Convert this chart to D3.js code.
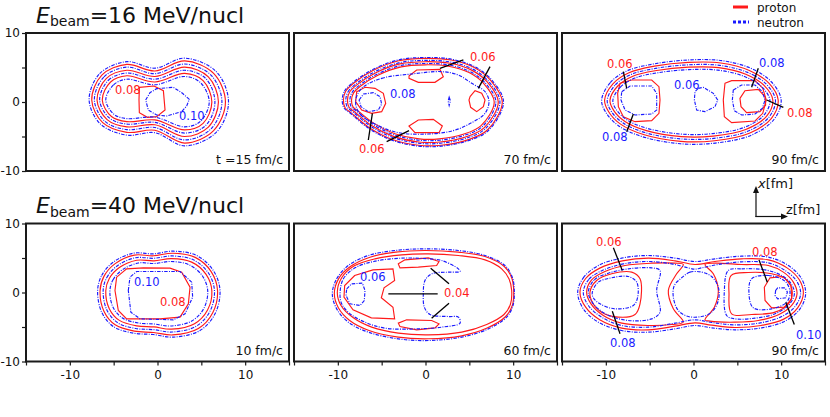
<!DOCTYPE html>
<html><head><meta charset="utf-8">
<script src="https://cdn.jsdelivr.net/npm/d3@7"></script>
<style>body{margin:0;background:#fff} svg{display:block;font-family:"DejaVu Sans",sans-serif}</style>
</head><body><svg id="c" width="830" height="417"></svg>
<script>
// ---------------- data ----------------
const zDomain = [-15, 15];
const xDomain = [-10, 10];
const zTickValues = [-15, -10, -5, 0, 5, 10, 15];
const zTickLabels = [-10, 0, 10];
const xTickValues = [-10, -5, 0, 5, 10];
const xTickLabels = [-10, 0, 10];
const beamEnergies = ["16", "40"];
const timeLabels = ["t =15 fm/c", "70 fm/c", "90 fm/c", "10 fm/c", "60 fm/c", "90 fm/c"];
const legendNames = ["proton", "neutron"];

// Panel 1 : 16 MeV/nucl, t = 15 fm/c   (points are [z, x] in fm)
const p1ProtonRings = [
  [[-7.5,0.3],[-6.35,3.9],[-3.5,5.45],[-0.3,4.5],[3.1,5.95],[6.4,4.15],[7.75,0],[6.4,-4.15],[3.1,-5.95],[-0.3,-4.1],[-3.5,-4.4],[-6.25,-3.0]],
  [[-6.9,0.3],[-5.85,3.4],[-3.5,4.6],[-0.3,3.7],[3.1,5.05],[5.8,3.65],[6.95,0],[5.8,-3.65],[3.1,-5.0],[-0.3,-3.3],[-3.5,-3.6],[-5.75,-2.55]],
  [[-6.3,0.3],[-5.35,2.9],[-3.5,3.8],[-0.3,2.9],[3.1,4.15],[5.2,3.1],[6.2,0],[5.2,-3.1],[3.1,-4.05],[-0.3,-2.6],[-3.5,-2.85],[-5.25,-2.1]]
];
const p1NeutronRings = [
  [[-7.8,0.3],[-6.6,4.1],[-3.5,5.85],[-0.3,4.9],[3.1,6.35],[6.7,4.4],[8.1,0],[6.7,-4.4],[3.1,-6.35],[-0.3,-4.45],[-3.5,-4.8],[-6.5,-3.2]],
  [[-7.2,0.3],[-6.1,3.65],[-3.5,5.05],[-0.3,4.1],[3.1,5.5],[6.1,3.9],[7.35,0],[6.1,-3.9],[3.1,-5.5],[-0.3,-3.7],[-3.5,-4.0],[-6.0,-2.8]],
  [[-6.6,0.3],[-5.6,3.15],[-3.5,4.2],[-0.3,3.3],[3.1,4.6],[5.5,3.4],[6.55,0],[5.5,-3.4],[3.1,-4.5],[-0.3,-2.95],[-3.5,-3.2],[-5.5,-2.3]],
  [[-5.9,0.3],[-5.0,2.5],[-3.5,3.3],[-0.3,2.5],[3.1,3.7],[4.9,2.8],[5.9,0],[4.9,-2.8],[3.1,-3.6],[-0.3,-2.2],[-3.5,-2.4],[-4.95,-1.8]]
];
const p1ProtonIslands = [
  [[-2.07,2.13],[-0.4,2.32],[0.67,1.64],[0.86,-1.16],[-0.1,-2.13],[-1.16,-2.22],[-2.07,-1.55],[-2.11,0.29]]
];
const p1NeutronIslands = [
  [[-1.35,0.29],[-0.86,1.35],[-0.1,1.93],[1.81,2.13],[2.85,1.26],[3.63,0.39],[3.33,-0.58],[2.76,-1.4],[1.05,-2.03],[-0.1,-1.88],[-1.05,-1.16]]
];
const p1Labels = [["0.08", -4.85, 1.16, "p"], ["0.10", 2.45, -2.6, "n"]];
const p1Leaders = [];

// Panel 2 : 16 MeV/nucl, t = 70 fm/c
const p2ProtonRings = [
  [[-9.36,0.3],[-9.12,1.52],[-8.28,2.65],[-6.0,4.56],[-3.06,5.98],[0,6.32],[2.95,6.08],[5.56,5.0],[7.43,3.14],[8.76,0],[7.09,-4.02],[4.82,-5.49],[1.77,-6.27],[-0.79,-6.27],[-3.85,-5.39],[-6.41,-3.72],[-8.48,-1.57],[-9.17,-0.83]],
  [[-8.9,0.27],[-8.67,1.4],[-7.87,2.44],[-5.72,4.21],[-2.92,5.52],[-0.02,5.84],[2.79,5.61],[5.26,4.62],[7.04,2.9],[8.3,0],[6.71,-3.71],[4.56,-5.07],[1.66,-5.79],[-0.77,-5.79],[-3.67,-4.98],[-6.1,-3.44],[-8.06,-1.45],[-8.72,-0.77]],
  [[-8.44,0.25],[-8.22,1.29],[-7.47,2.25],[-5.43,3.88],[-2.78,5.09],[-0.03,5.39],[2.62,5.18],[4.97,4.26],[6.65,2.67],[7.84,0],[6.34,-3.42],[4.3,-4.68],[1.56,-5.34],[-0.74,-5.34],[-3.49,-4.59],[-5.79,-3.17],[-7.65,-1.34],[-8.27,-0.71]]
];
const p2NeutronRings = [
  [[-9.5,0.3],[-9.25,1.55],[-8.4,2.7],[-6.1,4.65],[-3.1,6.1],[0,6.45],[3.0,6.2],[5.65,5.1],[7.55,3.2],[8.9,0],[7.2,-4.1],[4.9,-5.6],[1.8,-6.4],[-0.8,-6.4],[-3.9,-5.5],[-6.5,-3.8],[-8.6,-1.6],[-9.3,-0.85]],
  [[-9.09,0.28],[-8.85,1.45],[-8.04,2.52],[-5.84,4.35],[-2.97,5.7],[-0.01,6.03],[2.85,5.8],[5.38,4.77],[7.2,2.99],[8.49,0],[6.86,-3.83],[4.67,-5.24],[1.71,-5.98],[-0.78,-5.98],[-3.74,-5.14],[-6.22,-3.55],[-8.23,-1.5],[-8.9,-0.79]],
  [[-8.63,0.26],[-8.4,1.34],[-7.63,2.34],[-5.55,4.02],[-2.83,5.28],[-0.03,5.58],[2.69,5.36],[5.08,4.41],[6.8,2.77],[8.03,0],[6.49,-3.55],[4.41,-4.84],[1.6,-5.54],[-0.75,-5.54],[-3.56,-4.76],[-5.91,-3.29],[-7.81,-1.38],[-8.45,-0.74]],
  [[-7.28,1.98],[-5.0,3.43],[-1.58,4.06],[1.84,4.4],[3.75,3.91],[5.27,2.71],[6.79,1.5],[7.24,0.05],[6.79,-1.64],[5.27,-3.0],[3.17,-4.15],[0.32,-4.64],[-3.1,-4.44],[-5.76,-3.19],[-7.59,-1.55],[-7.97,0.19]]
];
const p2ProtonIslands = [
  [[-1.88,3.77],[-1.01,4.64],[1.65,4.73],[2.03,3.67],[1.08,2.85],[-0.82,2.85],[-1.88,3.43]],
  [[-1.88,-3.48],[-0.82,-2.61],[0.89,-2.51],[1.92,-3.48],[1.54,-4.44],[-1.2,-4.44]],
  [[5.08,0.77],[5.65,1.64],[6.41,1.26],[6.79,0.29],[6.6,-0.68],[5.84,-1.4],[5.15,-0.77],[4.96,0.29]],
  [[-7.85,1.5],[-6.9,2.13],[-5.76,1.98],[-4.81,1.26],[-4.54,-0.19],[-5.0,-1.4],[-6.14,-1.64],[-7.28,-1.16],[-7.97,0.05]]
];
const p2NeutronIslands = [
  [[-7.57,0.29],[-7.07,1.16],[-5.95,1.35],[-5.19,0.77],[-5.0,-0.29],[-5.38,-1.16],[-6.52,-1.4],[-7.36,-0.68]],
  [[2.7,0.7],[2.85,0.15],[2.7,-0.5],[2.58,0.15]]
];
const p2Labels = [["0.06", 5.08, 5.94, "p"], ["0.06", -7.59, -7.39, "p"], ["0.08", -4.05, 0.58, "n"]];
const p2Leaders = [
  [[1.65,4.88],[4.32,6.09]], [[6.03,1.98],[7.36,5.12]],
  [[-6.06,-1.64],[-6.52,-5.51]], [[-1.88,-4.15],[-4.43,-5.75]]
];

// Panel 3 : 16 MeV/nucl, t = 90 fm/c
const p3ProtonRings = [
  [[-10.14,0.27],[-9.19,2.64],[-7.36,4.24],[-4.46,5.19],[-0.59,5.74],[3.09,5.66],[6.37,4.57],[8.6,2.73],[9.66,0.28],[8.89,-2.36],[6.37,-4.53],[2.41,-5.61],[-1.46,-5.71],[-5.71,-4.72],[-8.32,-3.21],[-9.68,-1.41]],
  [[-9.53,0.24],[-8.64,2.32],[-6.92,3.74],[-4.2,4.57],[-0.57,5.05],[2.88,4.98],[5.96,4.03],[8.05,2.41],[9.05,0.25],[8.32,-2.08],[5.96,-3.98],[2.24,-4.94],[-1.38,-5.02],[-5.37,-4.15],[-7.82,-2.82],[-9.09,-1.25]]
];
const p3NeutronRings = [
  [[-10.48,0.29],[-9.5,2.8],[-7.6,4.5],[-4.6,5.5],[-0.6,6.09],[3.2,6.0],[6.6,4.85],[8.9,2.9],[10.0,0.3],[9.2,-2.5],[6.6,-4.8],[2.5,-5.95],[-1.5,-6.05],[-5.9,-5.0],[-8.6,-3.4],[-10.0,-1.5]],
  [[-9.84,0.26],[-8.92,2.48],[-7.14,3.98],[-4.33,4.87],[-0.58,5.39],[2.98,5.31],[6.17,4.29],[8.32,2.57],[9.35,0.27],[8.6,-2.21],[6.17,-4.25],[2.33,-5.27],[-1.42,-5.35],[-5.54,-4.43],[-8.07,-3.01],[-9.39,-1.33]],
  [[-9.2,0.22],[-8.34,2.16],[-6.68,3.47],[-4.06,4.24],[-0.56,4.69],[2.77,4.62],[5.74,3.73],[7.76,2.23],[8.72,0.23],[8.02,-1.93],[5.74,-3.7],[2.16,-4.58],[-1.34,-4.66],[-5.19,-3.85],[-7.56,-2.62],[-8.78,-1.16]]
];
const p3ProtonIslands = [
  [[-8.38,2.71],[-7.05,3.19],[-4.77,3.19],[-3.94,2.22],[-3.82,0.29],[-3.94,-1.64],[-4.77,-2.71],[-6.67,-2.85],[-8.0,-2.13],[-8.57,-0.68],[-8.65,1.26]],
  [[3.59,2.71],[4.35,3.1],[7.02,3.1],[7.9,2.0],[8.3,0.29],[7.9,-1.64],[7.02,-2.75],[4.35,-2.99],[3.52,-2.13],[3.4,0.29]],
  [[5.3,0.53],[5.87,1.64],[7.39,1.84],[8.16,0.77],[8.23,-0.43],[7.58,-1.4],[6.06,-1.55],[5.42,-0.68]]
];
const p3NeutronIslands = [
  [[-8.19,1.5],[-7.24,2.32],[-4.77,2.32],[-4.2,1.26],[-4.2,-1.16],[-4.77,-1.74],[-6.67,-1.88],[-7.81,-1.16],[-8.27,0.29]],
  [[0.55,1.98],[1.12,2.13],[2.26,1.26],[2.76,0.29],[2.45,-0.68],[1.31,-1.4],[0.36,-1.16],[0.1,0.29],[0.17,1.5]],
  [[4.54,1.74],[5.49,2.46],[7.02,2.46],[7.85,1.5],[8.16,0.29],[7.85,-0.92],[7.02,-1.74],[5.49,-1.88],[4.66,-1.26],[4.43,0.29]]
];
const p3Labels = [["0.06", -9.87, 4.93, "p"], ["0.08", -10.44, -5.65, "n"], ["0.06", -2.22, 1.88, "n"], ["0.08", 7.47, 5.07, "n"], ["0.08", 10.66, -2.17, "p"]];
const p3Leaders = [
  [[-8.0,4.4],[-7.62,1.98]], [[-6.86,-1.74],[-7.62,-4.3]],
  [[6.63,2.13],[7.39,4.88]], [[8.35,0.29],[10.25,-0.77]]
];

// Panel 4 : 40 MeV/nucl, t = 10 fm/c
const p4ProtonRings = [
  [[-6.55,0.28],[-6.11,2.34],[-4.83,4.18],[-2.64,5.42],[-0.45,5.32],[1.74,5.69],[4.3,5.09],[6.12,3.03],[6.85,0.28],[6.3,-2.94],[4.66,-5.23],[1.74,-6.15],[-0.45,-5.79],[-2.64,-5.6],[-4.83,-4.68],[-6.11,-2.71]],
  [[-5.9,0.24],[-5.5,2.02],[-4.35,3.61],[-2.37,4.67],[-0.4,4.59],[1.59,4.91],[3.9,4.4],[5.54,2.62],[6.2,0.24],[5.71,-2.53],[4.22,-4.52],[1.59,-5.31],[-0.4,-4.99],[-2.37,-4.83],[-4.35,-4.04],[-5.5,-2.34]]
];
const p4NeutronRings = [
  [[-6.83,0.29],[-6.37,2.46],[-5.04,4.4],[-2.76,5.7],[-0.48,5.6],[1.81,5.99],[4.47,5.36],[6.37,3.19],[7.13,0.29],[6.56,-3.09],[4.85,-5.51],[1.81,-6.47],[-0.48,-6.09],[-2.76,-5.89],[-5.04,-4.93],[-6.37,-2.85]],
  [[-6.2,0.26],[-5.78,2.18],[-4.57,3.89],[-2.5,5.04],[-0.42,4.96],[1.66,5.3],[4.08,4.74],[5.81,2.82],[6.5,0.26],[5.98,-2.73],[4.43,-4.88],[1.66,-5.73],[-0.42,-5.39],[-2.5,-5.21],[-4.57,-4.36],[-5.78,-2.52]],
  [[-5.43,0.22],[-5.07,1.85],[-4.0,3.3],[-2.18,4.28],[-0.35,4.2],[1.48,4.49],[3.61,4.02],[5.13,2.39],[5.73,0.22],[5.28,-2.32],[3.91,-4.13],[1.48,-4.85],[-0.35,-4.57],[-2.18,-4.42],[-4.0,-3.7],[-5.07,-2.14]]
];
const p4ProtonIslands = [
  [[-4.85,0.29],[-4.66,2.22],[-3.52,3.43],[-1.62,3.57],[1.43,3.53],[2.76,2.95],[3.71,0.77],[3.52,-1.64],[2.57,-3.57],[0.29,-3.82],[-3.52,-3.82],[-4.47,-2.61]]
];
const p4NeutronIslands = [
  [[-3.33,0.29],[-3.14,2.22],[-2.38,3.04],[2.57,3.04],[3.9,1.5],[4.01,-0.68],[3.14,-3.09],[1.81,-3.96],[-1.99,-3.82],[-3.04,-2.85]]
];
const p4Labels = [["0.10", -2.68, 1.01, "n"], ["0.08", 0.29, -1.98, "p"]];
const p4Leaders = [];

// Panel 5 : 40 MeV/nucl, t = 60 fm/c
const p5ProtonRings = [
  [[-10.4,-0.1],[-9.87,2.08],[-8.57,3.77],[-6.33,5.12],[-3.4,5.85],[-0.06,6.09],[3.75,5.85],[6.79,5.22],[8.99,3.77],[9.83,2.13],[10.06,0.29],[9.9,-1.88],[9.14,-3.48],[7.09,-5.12],[4.13,-6.28],[0.32,-6.71],[-3.1,-6.47],[-6.44,-5.51],[-8.65,-4.06],[-9.94,-2.22]],
  [[-10.06,0.05],[-9.56,2.13],[-8.12,3.86],[-5.76,4.88],[-2.72,5.46],[0.32,5.6],[3.75,5.36],[6.79,4.73],[8.69,3.43],[9.52,1.98],[9.83,0.29],[9.68,-1.74],[8.95,-3.19],[6.98,-4.64],[4.13,-5.75],[0.32,-6.14],[-3.1,-5.89],[-6.14,-5.02],[-8.23,-3.67],[-9.64,-1.88]]
];
const p5NeutronRings = [
  [[-10.63,-0.19],[-10.13,1.98],[-8.8,3.91],[-6.52,5.36],[-3.48,6.09],[-0.06,6.33],[3.75,6.09],[6.79,5.36],[9.07,3.91],[9.9,2.22],[10.13,0.29],[9.98,-1.88],[9.26,-3.57],[7.17,-5.27],[4.13,-6.47],[0.32,-6.96],[-3.1,-6.72],[-6.52,-5.75],[-8.8,-4.3],[-10.13,-2.37]],
  [[-9.75,-0.19],[-9.37,1.98],[-8.04,3.57],[-5.76,4.54],[-2.72,4.98],[0.32,4.88],[1.84,4.64],[3.75,3.43],[3.94,3.04],[2.6,2.95],[0.7,2.71],[-0.06,1.74],[-0.25,-0.19],[-0.13,-2.13],[0.51,-3.19],[2.6,-3.48],[3.75,-3.57],[3.94,-4.44],[1.84,-5.02],[-0.82,-5.27],[-4.62,-5.17],[-6.9,-4.3],[-8.61,-3.09],[-9.56,-1.64]]
];
const p5ProtonIslands = [
  [[-3.71,3.43],[-3.52,1.74],[-4.73,0.68],[-5.04,-0.77],[-3.71,-2.13],[-3.52,-3.82],[-6.18,-3.67],[-8.27,-2.51],[-9.3,-0.68],[-9.22,1.01],[-8.08,2.46],[-5.99,3.28]],
  [[-3.1,4.15],[-2.34,4.73],[0.32,5.02],[1.54,4.49],[1.27,3.91],[-0.82,3.67],[-2.91,3.57]],
  [[-3.1,-4.44],[-2.15,-3.96],[0.7,-4.06],[1.54,-4.54],[1.08,-5.12],[-1.01,-5.41],[-2.91,-4.93]]
];
const p5NeutronIslands = [
  [[-8.99,0.53],[-8.42,1.26],[-7.2,1.35],[-6.9,0.29],[-6.98,-1.16],[-7.47,-1.88],[-8.61,-1.64],[-9.07,-0.43]]
];
const p5Labels = [["0.06", -7.47, 1.7, "n"], ["0.04", 2.11, -0.58, "p"]];
const p5Leaders = [
  [[-4.24,-0.19],[1.39,-0.19]], [[0.59,3.53],[2.68,1.26]], [[0.7,-3.72],[2.68,-1.55]]
];

// Panel 6 : 40 MeV/nucl, t = 90 fm/c
const p6ProtonRings = [
  [[-12.95,0.05],[-12.3,2.03],[-10.63,3.57],[-8.12,4.59],[-5.15,4.98],[-2.11,4.59],[0.17,4.06],[2.45,4.49],[5.49,4.88],[8.54,4.73],[10.67,3.57],[12.07,1.84],[12.53,-0.19],[11.88,-2.22],[10.29,-3.86],[7.7,-4.78],[4.73,-5.07],[2.07,-4.73],[0.17,-4.4],[-2.11,-4.88],[-5.15,-5.41],[-8.19,-5.17],[-10.7,-3.96],[-12.3,-2.13]],
  [[-12.19,0.05],[-11.62,1.84],[-10.1,3.04],[-7.81,3.91],[-4.77,4.25],[-2.11,4.25],[-1.16,4.06],[-1.92,2.71],[-2.87,0.29],[-2.3,-2.37],[-1.16,-4.3],[-2.49,-4.64],[-5.15,-4.78],[-8.19,-4.44],[-10.29,-3.33],[-11.69,-1.64]],
  [[1.31,4.06],[2.45,4.25],[5.49,4.06],[8.54,3.91],[10.25,2.95],[11.39,1.5],[11.81,-0.19],[11.2,-1.88],[9.75,-3.19],[7.39,-4.06],[4.73,-4.3],[1.88,-4.15],[1.31,-3.96],[2.38,-2.13],[2.83,0.29],[2.26,2.71]],
  [[-11.81,0.05],[-11.05,1.74],[-9.33,2.71],[-7.05,2.95],[-6.1,1.98],[-6.1,-1.64],[-6.67,-3.19],[-8.57,-3.57],[-10.48,-2.85],[-11.54,-1.4]],
  [[4.28,2.46],[6.25,2.9],[8.9,2.71],[10.63,1.84],[11.27,0.05],[10.82,-1.64],[9.3,-2.85],[6.63,-3.19],[4.35,-3.09],[4.05,-0.19]]
];
const p6NeutronRings = [
  [[-13.21,0.05],[-12.57,2.13],[-10.86,3.91],[-8.19,4.98],[-5.15,5.36],[-2.11,4.98],[0.17,4.49],[2.45,4.88],[5.49,5.27],[8.54,5.12],[10.82,3.91],[12.34,1.98],[12.79,-0.19],[12.15,-2.37],[10.44,-4.15],[7.79,-5.12],[4.73,-5.41],[2.07,-5.12],[0.17,-4.78],[-2.11,-5.27],[-5.15,-5.75],[-8.19,-5.51],[-10.86,-4.3],[-12.57,-2.37]],
  [[-12.57,0.05],[-11.92,1.93],[-10.4,3.19],[-8.0,4.15],[-5.15,4.49],[-2.49,4.15],[-0.59,3.57],[0.17,3.38],[0.93,3.57],[2.83,4.06],[5.49,4.44],[8.54,4.3],[10.44,3.19],[11.77,1.64],[12.22,-0.19],[11.58,-2.03],[10.06,-3.48],[7.62,-4.4],[4.73,-4.69],[2.07,-4.35],[0.17,-3.96],[-2.11,-4.44],[-5.15,-5.02],[-8.19,-4.78],[-10.48,-3.57],[-12.0,-1.88]],
  [[-1.35,2.13],[-0.4,2.95],[0.93,2.95],[2.07,2.32],[2.83,0.77],[2.83,-1.16],[2.07,-2.85],[0.93,-3.48],[-0.59,-3.48],[-1.73,-2.61],[-2.3,-0.68],[-2.19,1.01]],
  [[-12.0,0.05],[-11.31,1.84],[-9.71,2.8],[-7.43,3.43],[-4.77,3.57],[-3.82,3.19],[-4.2,0.29],[-3.82,-2.85],[-4.77,-3.82],[-7.43,-4.06],[-9.9,-3.19],[-11.43,-1.64]],
  [[3.97,3.19],[5.49,3.43],[8.16,3.28],[10.06,2.46],[11.2,1.16],[11.5,-0.29],[10.82,-1.88],[9.3,-3.09],[7.01,-3.72],[4.73,-3.82],[3.78,-3.33],[3.52,0.29]],
  [[-11.54,0.05],[-10.86,1.5],[-9.33,2.13],[-7.43,2.32],[-6.48,1.5],[-6.37,-0.68],[-6.86,-1.88],[-8.95,-2.37],[-10.67,-1.64],[-11.43,-0.77]],
  [[6.63,1.98],[8.54,2.46],[10.44,1.64],[11.01,0.05],[10.63,-1.4],[8.92,-2.37],[6.82,-2.22],[6.33,-0.19]]
];
const p6ProtonIslands = [
  [[8.08,0.77],[8.73,2.13],[10.25,2.32],[11.12,1.01],[11.2,-0.92],[10.36,-2.13],[8.92,-2.22],[8.16,-1.16]]
];
const p6NeutronIslands = [
  [[9.37,0.29],[9.6,0.68],[10.44,0.68],[10.71,0.05],[10.52,-0.77],[9.6,-0.92],[9.3,-0.43]]
];
const p6Labels = [["0.06", -11.12, 6.77, "p"], ["0.08", -9.52, -7.93, "n"], ["0.08", 6.67, 5.31, "p"], ["0.10", 11.69, -6.71, "n"]];
const p6Leaders = [
  [[-9.14,6.47],[-8.12,3.19]], [[-9.26,-2.71],[-8.38,-5.99]],
  [[7.47,4.73],[8.42,1.5]], [[10.52,-1.4],[11.5,-4.64]]
];

// ---------------- drawing ----------------
const panels = [
  {pr: p1ProtonRings, nr: p1NeutronRings, pi: p1ProtonIslands, ni: p1NeutronIslands, lab: p1Labels, lead: p1Leaders},
  {pr: p2ProtonRings, nr: p2NeutronRings, pi: p2ProtonIslands, ni: p2NeutronIslands, lab: p2Labels, lead: p2Leaders},
  {pr: p3ProtonRings, nr: p3NeutronRings, pi: p3ProtonIslands, ni: p3NeutronIslands, lab: p3Labels, lead: p3Leaders},
  {pr: p4ProtonRings, nr: p4NeutronRings, pi: p4ProtonIslands, ni: p4NeutronIslands, lab: p4Labels, lead: p4Leaders},
  {pr: p5ProtonRings, nr: p5NeutronRings, pi: p5ProtonIslands, ni: p5NeutronIslands, lab: p5Labels, lead: p5Leaders},
  {pr: p6ProtonRings, nr: p6NeutronRings, pi: p6ProtonIslands, ni: p6NeutronIslands, lab: p6Labels, lead: p6Leaders}
];

const RED = "#ff1a1a", BLUE = "#1a1aff";
const colLeft = [26, 294, 562], panelW = 263;
const rowTop = [33, 223.5], panelH = 138;
const svg = d3.select("#c");

const xs = d3.scaleLinear().domain(zDomain).range([0, panelW]);
const ys = d3.scaleLinear().domain(xDomain).range([panelH, 0]);
const smooth = d3.line().x(d => xs(d[0])).y(d => ys(d[1])).curve(d3.curveCatmullRomClosed.alpha(0.5));
const poly = d3.line().x(d => xs(d[0])).y(d => ys(d[1])).curve(d3.curveLinearClosed);
const seg = d3.line().x(d => xs(d[0])).y(d => ys(d[1]));

panels.forEach((p, i) => {
  const r = Math.floor(i / 3), c = i % 3;
  const g = svg.append("g").attr("transform", `translate(${colLeft[c]},${rowTop[r]})`);
  const clipId = "clip" + i;
  g.append("clipPath").attr("id", clipId).append("rect").attr("width", panelW).attr("height", panelH);
  const inner = g.append("g").attr("clip-path", `url(#${clipId})`);
  const drawSet = (arr, gen, color, dash) => {
    inner.selectAll(null).data(arr).enter().append("path")
      .attr("d", gen).attr("fill", "none").attr("stroke", color)
      .attr("stroke-width", 1.15).attr("stroke-dasharray", dash);
  };
  drawSet(p.pr, smooth, RED, null);
  drawSet(p.pi, poly, RED, null);
  drawSet(p.nr, smooth, BLUE, "3.5 1.3 1 1.3");
  drawSet(p.ni, poly, BLUE, "3.5 1.3 1 1.3");
  inner.selectAll(null).data(p.lead).enter().append("path")
    .attr("d", seg).attr("stroke", "#000").attr("stroke-width", 1.3).attr("fill", "none");
  inner.selectAll(null).data(p.lab).enter().append("text")
    .attr("x", d => xs(d[1])).attr("y", d => ys(d[2]))
    .attr("font-size", 11.5).attr("fill", d => d[3] === "p" ? RED : BLUE).text(d => d[0]);
  g.append("text").attr("x", panelW - 6).attr("y", panelH - 7).attr("text-anchor", "end")
    .attr("font-size", 12.5).attr("fill", "#111").text(timeLabels[i]);
  g.append("rect").attr("width", panelW).attr("height", panelH)
    .attr("fill", "none").attr("stroke", "#1a1a1a").attr("stroke-width", 2);
  if (c === 0) {
    const ax = g.append("g").call(d3.axisLeft(ys).tickValues(xTickValues)
      .tickFormat(d => xTickLabels.includes(d) ? String(d) : "").tickSize(4).tickPadding(2));
    ax.select(".domain").remove();
    ax.selectAll("line").attr("stroke", "#1a1a1a").attr("stroke-width", 1.2);
    ax.selectAll("text").attr("font-size", 12).attr("font-family", "DejaVu Sans").attr("fill", "#111");
  }
  if (r === 1) {
    const ax = g.append("g").attr("transform", `translate(0,${panelH})`)
      .call(d3.axisBottom(xs).tickValues(zTickValues)
      .tickFormat(d => zTickLabels.includes(d) ? String(d) : "").tickSize(4).tickPadding(5));
    ax.select(".domain").remove();
    ax.selectAll("line").attr("stroke", "#1a1a1a").attr("stroke-width", 1.2);
    ax.selectAll("text").attr("font-size", 12).attr("font-family", "DejaVu Sans").attr("fill", "#111");
  }
});

// titles
beamEnergies.forEach((e, r) => {
  const t = svg.append("text").attr("x", 36).attr("y", rowTop[r] - 10.5).attr("font-size", 22).attr("fill", "#111");
  t.append("tspan").attr("font-style", "italic").text("E");
  t.append("tspan").attr("font-size", 14).attr("dy", 3.5).text("beam");
  t.append("tspan").attr("dy", -3.5).text("=" + e + " MeV/nucl");
});

// legend
const lg = svg.append("g");
lg.append("line").attr("x1", 733).attr("x2", 748).attr("y1", 7).attr("y2", 7).attr("stroke", RED).attr("stroke-width", 3);
lg.append("line").attr("x1", 733).attr("x2", 749).attr("y1", 22).attr("y2", 22).attr("stroke", BLUE).attr("stroke-width", 3).attr("stroke-dasharray", "3 2");
lg.append("text").attr("x", 757).attr("y", 11.5).attr("font-size", 12).attr("fill", "#111").text(legendNames[0]);
lg.append("text").attr("x", 757).attr("y", 26.5).attr("font-size", 12).attr("fill", "#111").text(legendNames[1]);

// coordinate arrows
const ar = svg.append("g").attr("stroke", "#111").attr("fill", "#111");
ar.append("line").attr("x1", 756).attr("y1", 217).attr("x2", 756).attr("y2", 191).attr("stroke-width", 1.2);
ar.append("path").attr("d", "M756,186 L753,193 L759,193 Z").attr("stroke", "none");
ar.append("line").attr("x1", 755.4).attr("y1", 216.5).attr("x2", 782).attr("y2", 216.5).attr("stroke-width", 1.2);
ar.append("path").attr("d", "M788,216.5 L781,213.5 L781,219.5 Z").attr("stroke", "none");
const xl = svg.append("text").attr("x", 758).attr("y", 188).attr("font-size", 13).attr("fill", "#111");
xl.append("tspan").attr("font-style", "italic").text("x");
xl.append("tspan").text("[fm]");
const zl = svg.append("text").attr("x", 786).attr("y", 214).attr("font-size", 13).attr("fill", "#111");
zl.append("tspan").text("z");
zl.append("tspan").text("[fm]");
</script></body></html>
